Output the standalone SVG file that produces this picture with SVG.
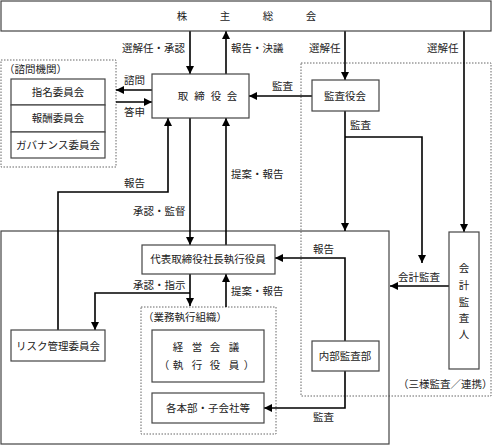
<svg xmlns="http://www.w3.org/2000/svg" width="492" height="445" viewBox="0 0 492 445">
<style>
text{font-family:"Noto Sans CJK JP","Liberation Serif",serif;font-size:10.5px;fill:#222}
.box{fill:#fff;stroke:#444;stroke-width:1.2}
.dot{fill:none;stroke:#666;stroke-width:1;stroke-dasharray:1.5 1.5}
.c{fill:none;stroke:#000;stroke-width:1.6}
.ar{marker-end:url(#ah)}
.m{text-anchor:middle}
</style>
<defs>
<marker id="ah" markerUnits="userSpaceOnUse" markerWidth="9" markerHeight="9" refX="8" refY="4" orient="auto">
<path d="M0,0 L8,4 L0,8 z" fill="#000"/>
</marker>
</defs>
<rect width="492" height="445" fill="#fff"/>

<g id="frames">
<rect class="dot" x="1" y="60" width="115" height="107"/>
<text x="4" y="73">（諮問機関）</text>
<rect class="dot" x="301" y="63" width="190" height="333"/>
<text x="398" y="388">（三様監査／連携）</text>
<rect fill="none" stroke="#444" stroke-width="1.2" x="1" y="231" width="388" height="213"/>
<rect class="dot" x="141" y="307" width="135" height="127"/>
<text x="143" y="321">（業務執行組織）</text>
</g>

<g id="connectors">
<line class="c ar" x1="190" y1="31" x2="190" y2="74"/>
<line class="c ar" x1="226" y1="74" x2="226" y2="31"/>
<line class="c ar" x1="345" y1="31" x2="345" y2="80"/>
<line class="c ar" x1="464" y1="31" x2="464" y2="232"/>
<line class="c ar" x1="152" y1="90" x2="116" y2="90"/>
<line class="c ar" x1="116" y1="102" x2="152" y2="102"/>
<line class="c ar" x1="312" y1="96" x2="249" y2="96"/>
<line class="c ar" x1="345" y1="111" x2="345" y2="231"/>
<polyline class="c ar" points="345,137 422,137 422,263"/>
<line class="c ar" x1="449" y1="286" x2="390" y2="286"/>
<line class="c ar" x1="190" y1="118" x2="190" y2="245"/>
<line class="c ar" x1="226" y1="245" x2="226" y2="118"/>
<polyline class="c ar" points="58,330 58,192 168,192 168,118"/>
<polyline class="c ar" points="345,341 345,258 275,258"/>
<line class="c ar" x1="190" y1="274" x2="190" y2="306"/>
<polyline class="c ar" points="190,293 95,293 95,330"/>
<line class="c ar" x1="226" y1="307" x2="226" y2="274"/>
<polyline class="c ar" points="345,371 345,408 264,408"/>
</g>

<g id="labels">
<text x="122" y="52">選解任・承認</text>
<text x="231" y="52">報告・決議</text>
<text x="309" y="52">選解任</text>
<text x="427" y="52">選解任</text>
<text x="124" y="84">諮問</text>
<text x="124" y="116">答申</text>
<text x="272" y="90">監査</text>
<text x="350" y="129">監査</text>
<text x="231" y="178">提案・報告</text>
<text x="124" y="187">報告</text>
<text x="133" y="215">承認・監督</text>
<text x="313" y="253">報告</text>
<text x="398" y="281">会計監査</text>
<text x="133" y="289">承認・指示</text>
<text x="231" y="295">提案・報告</text>
<text x="313" y="421">監査</text>
</g>

<g id="n-shareholders">
<rect class="box" x="1" y="1" width="490" height="30"/>
<text class="m" x="182 225 268 311" y="20">株主総会</text>
</g>
<g id="n-board">
<rect class="box" x="152" y="74" width="97" height="44"/>
<text class="m" x="183 199.5 216 232" y="100">取締役会</text>
</g>
<g id="n-nominate">
<rect class="box" x="11" y="79" width="94" height="26"/>
<text class="m" x="58" y="96">指名委員会</text>
</g>
<g id="n-reward">
<rect class="box" x="11" y="105" width="94" height="27"/>
<text class="m" x="58" y="122">報酬委員会</text>
</g>
<g id="n-governance">
<rect class="box" x="11" y="132" width="94" height="26"/>
<text class="m" x="58" y="149">ガバナンス委員会</text>
</g>
<g id="n-auditboard">
<rect class="box" x="312" y="80" width="67" height="31"/>
<text class="m" x="345" y="100">監査役会</text>
</g>
<g id="n-accountant">
<rect class="box" x="449" y="232" width="30" height="137"/>
<text class="m" x="464" y="272">会</text>
<text class="m" x="464" y="289">計</text>
<text class="m" x="464" y="306">監</text>
<text class="m" x="464" y="322">査</text>
<text class="m" x="464" y="338">人</text>
</g>
<g id="n-president">
<rect class="box" x="142" y="245" width="133" height="29"/>
<text class="m" x="208" y="263">代表取締役社長執行役員</text>
</g>
<g id="n-risk">
<rect class="box" x="11" y="330" width="94" height="31"/>
<text class="m" x="58" y="350">リスク管理委員会</text>
</g>
<g id="n-management">
<rect class="box" x="152" y="330" width="112" height="52"/>
<text class="m" x="178 197 215 234" y="351">経営会議</text>
<text class="m" x="164 178 197 215 234 249" y="369">（執行役員）</text>
</g>
<g id="n-divisions">
<rect class="box" x="152" y="393" width="112" height="30"/>
<text class="m" x="208" y="412">各本部・子会社等</text>
</g>
<g id="n-internalaudit">
<rect class="box" x="312" y="341" width="67" height="30"/>
<text class="m" x="345" y="360">内部監査部</text>
</g>
</svg>
